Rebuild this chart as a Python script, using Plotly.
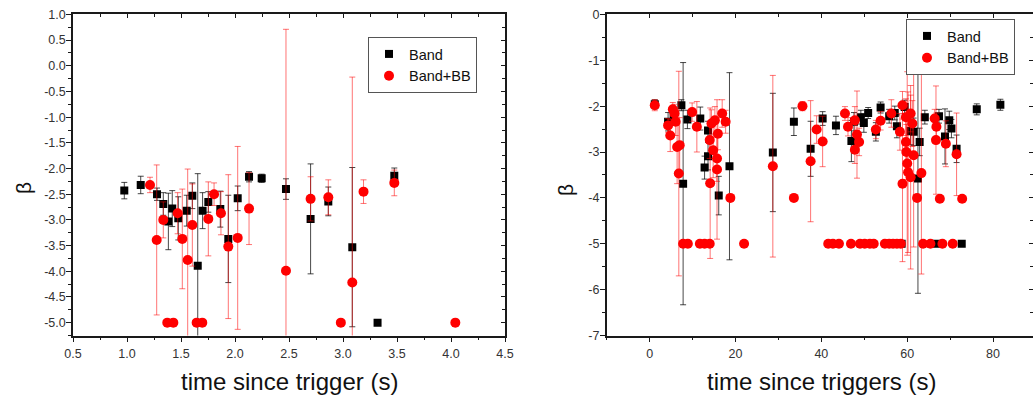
import plotly.graph_objects as go

# ---------------- data: left panel ----------------
L_BAND_X = [0.975, 1.127, 1.278, 1.336, 1.383, 1.419, 1.475, 1.553, 1.605, 1.655, 1.70, 1.753,
            1.864, 1.938, 2.025, 2.13, 2.247, 2.472, 2.70, 2.864, 3.086, 3.32, 3.475]
L_BAND_Y = [-2.43, -2.32, -2.50, -2.69, -3.03, -2.78, -2.97, -2.82, -2.53, -3.89, -2.82, -2.65,
            -2.79, -3.37, -2.58, -2.16, -2.19, -2.40, -2.98, -2.64, -3.53, -5.0, -2.14]
L_BAND_E = [0.16, 0.17, 0.12, 0.22, 0.55, 0.35, 0.42, 0.30, 0.25, 1.79, 0.35, 0.20,
            0.35, 0.85, 0.24, 0.10, 0.08, 0.20, 1.07, 0.28, 1.55, 0.0, 0.15]

L_BB_X = [1.213, 1.275, 1.336, 1.373, 1.429, 1.469, 1.512, 1.562, 1.605, 1.645, 1.697, 1.753,
          1.806, 1.87, 1.938, 2.025, 2.13, 2.472, 2.70, 2.864, 2.98, 3.086, 3.19, 3.475, 4.04]
L_BB_Y = [-2.32, -3.39, -3.00, -5.0, -5.0, -2.87, -3.37, -3.78, -3.10, -5.0, -5.0, -2.98,
          -2.50, -2.87, -3.52, -3.35, -2.78, -3.99, -2.59, -2.56, -5.0, -4.22, -2.45, -2.28, -5.0]
L_BB_E = [0.15, 1.46, 0.35, 0.0, 0.0, 0.40, 0.97, 1.77, 0.80, 0.0, 0.0, 0.72,
          0.22, 0.42, 1.40, 1.78, 0.70, 4.70, 0.43, 0.34, 0.0, 4.00, 0.23, 0.25, 0.0]

# ---------------- data: right panel ----------------
R_BAND_X = [1.2, 4.3, 5.6, 7.4, 7.8, 8.8, 11.8, 12.8, 13.6, 13.6, 16.1, 18.6, 28.7,
            33.6, 37.5, 40.3, 43.4, 47.0, 47.6, 49.2, 49.9, 50.9, 52.7, 53.8, 55.8,
            57.1, 57.6, 59.4, 60.8, 61.5, 62.9, 62.5, 64.1, 67.4, 68.8, 69.8, 70.3,
            71.5, 76.2, 81.7, 58.7, 66.8, 72.7]
R_BAND_Y = [-1.96, -2.34, -2.20, -1.98, -3.69, -2.29, -2.27, -3.34, -2.53, -3.09, -3.95, -3.31, -3.01,
            -2.34, -2.93, -2.27, -2.42, -2.76, -2.34, -2.24, -2.37, -2.15, -2.56, -2.03, -2.22,
            -2.15, -2.44, -2.02, -2.54, -2.56, -2.78, -3.58, -2.24, -2.22, -2.66, -2.31, -2.49,
            -2.93, -2.07, -1.97, -5.0, -5.0, -5.0]
R_BAND_E = [0.10, 0.20, 0.15, 0.12, 2.64, 0.20, 0.25, 0.25, 0.20, 0.30, 0.42, 2.04, 1.29,
            0.30, 0.60, 0.15, 0.20, 0.45, 0.20, 0.15, 0.20, 0.12, 0.20, 0.12, 0.15,
            0.15, 0.25, 0.15, 0.30, 0.30, 0.30, 2.50, 0.15, 0.15, 0.60, 0.20, 0.20,
            0.30, 0.12, 0.12, 0.0, 0.05, 0.0]

R_BB_X = [1.2, 4.3, 4.8, 5.4, 5.8, 6.06, 6.4, 7.0, 6.8, 7.8, 8.9, 9.9, 11.0, 11.7, 12.8, 14.0,
          14.0, 14.4, 14.8, 15.2, 15.7, 15.7, 14.1, 15.9, 16.9, 17.7, 18.8, 22.0, 28.7,
          33.6, 35.6, 37.5, 38.9, 40.3, 41.6, 42.7, 44.1, 45.5, 46.2, 46.9, 47.8, 47.8, 48.3,
          48.8, 49.0, 50.1, 51.3, 52.2, 52.7, 53.8, 54.8, 55.8, 56.7, 57.6, 58.5,
          56.3, 58.3, 58.9, 59.7, 59.7, 59.8, 60.0, 60.2, 58.9, 60.8, 61.2, 61.5, 62.3, 63.3,
          60.8, 63.7, 65.4, 66.4, 66.8, 66.7, 67.6, 68.2, 69.0, 70.6, 71.5, 72.8]
R_BB_Y = [-1.98, -2.42, -2.64, -2.07, -2.16, -2.34, -2.89, -2.85, -3.47, -5.0, -5.0, -2.13, -2.45, -5.0, -5.0, -5.0,
          -2.74, -2.38, -2.96, -2.31, -3.14, -3.38, -3.68, -2.60, -2.16, -2.34, -4.00, -5.0, -3.31,
          -4.00, -2.00, -3.20, -2.51, -2.77, -5.0, -5.0, -5.0, -2.16, -2.45, -5.0, -2.31, -2.95, -2.62,
          -2.78, -5.0, -5.0, -5.0, -5.0, -2.51, -2.32, -5.0, -5.0, -5.0, -5.0, -5.0,
          -2.16, -2.56, -1.98, -2.24, -2.78, -3.00, -3.25, -3.44, -3.69, -3.55, -2.38, -3.07, -4.00, -3.46,
          -2.16, -5.0, -5.0, -2.27, -2.45, -2.74, -4.02, -5.0, -2.82, -5.0, -3.05, -4.02]
R_BB_E = [0.12, 0.15, 0.35, 0.15, 0.20, 0.30, 0.80, 0.60, 2.23, 0.0, 0.0, 0.20, 0.55, 0.0, 0.0, 0.0,
          0.40, 0.30, 0.60, 0.30, 0.50, 1.52, 1.64, 0.35, 0.30, 0.25, 0.0, 0.0, 1.98,
          0.0, 0.10, 1.32, 0.30, 0.55, 0.0, 0.0, 0.0, 0.15, 0.20, 0.0, 0.30, 0.30, 0.95,
          0.30, 0.0, 0.0, 0.0, 0.0, 0.20, 0.20, 0.0, 0.0, 0.0, 0.0, 0.0,
          0.30, 0.40, 0.30, 0.40, 0.50, 0.60, 2.00, 1.75, 1.70, 2.00, 0.50, 2.00, 0.0, 2.20,
          0.40, 0.0, 0.0, 0.20, 0.30, 1.18, 0.0, 0.0, 0.50, 0.0, 0.90, 0.0]

# ---------------- tick labels ----------------
L_XTICKS = [0.5, 1.0, 1.5, 2.0, 2.5, 3.0, 3.5, 4.0, 4.5]
L_XLABELS = ["0.5", "1.0", "1.5", "2.0", "2.5", "3.0", "3.5", "4.0", "4.5"]
L_YTICKS = [1.0, 0.5, 0.0, -0.5, -1.0, -1.5, -2.0, -2.5, -3.0, -3.5, -4.0, -4.5, -5.0]
L_YLABELS = ["1.0", "0.5", "0.0", "-0.5", "-1.0", "-1.5", "-2.0", "-2.5", "-3.0", "-3.5", "-4.0", "-4.5", "-5.0"]
R_XTICKS = [0, 20, 40, 60, 80]
R_XLABELS = ["0", "20", "40", "60", "80"]
R_YTICKS = [0, -1, -2, -3, -4, -5, -6, -7]
R_YLABELS = ["0", "-1", "-2", "-3", "-4", "-5", "-6", "-7"]

SERIES_NAMES = ["Band", "Band+BB"]
X_TITLES = ["time since trigger (s)", "time since triggers (s)"]
Y_TITLE = "β"

FONT = "Liberation Sans, Arial, Helvetica, sans-serif"
W, H = 1033, 399

fig = go.Figure()

BLACK_ERR = "rgba(0,0,0,0.72)"
RED_ERR = "rgba(255,0,0,0.55)"


def add_pair(xa, ya, bx, by, be, rx, ry, re, legend):
    fig.add_trace(go.Scatter(
        x=bx, y=by, mode="markers", name=SERIES_NAMES[0], xaxis=xa, yaxis=ya, legend=legend,
        marker=dict(symbol="square", size=8, color="#000000", line=dict(width=0)),
        error_y=dict(type="data", array=be, symmetric=True, color=BLACK_ERR, thickness=1, width=3),
    ))
    fig.add_trace(go.Scatter(
        x=rx, y=ry, mode="markers", name=SERIES_NAMES[1], xaxis=xa, yaxis=ya, legend=legend,
        marker=dict(symbol="circle", size=10, color="#ff0000", line=dict(width=0)),
        error_y=dict(type="data", array=re, symmetric=True, color=RED_ERR, thickness=1, width=3),
    ))


add_pair("x", "y", L_BAND_X, L_BAND_Y, L_BAND_E, L_BB_X, L_BB_Y, L_BB_E, "legend")
add_pair("x2", "y2", R_BAND_X, R_BAND_Y, R_BAND_E, R_BB_X, R_BB_Y, R_BB_E, "legend2")

# dummy traces for mirror (inward tick) axes
for xa, ya in (("x3", "y3"), ("x4", "y4")):
    fig.add_trace(go.Scatter(x=[None], y=[None], xaxis=xa, yaxis=ya, showlegend=False,
                             hoverinfo="skip", mode="markers"))

XD_L = [73 / W, 505 / W]
XD_R = [606.7 / W, 1.0]
YD = [(H - 335.5) / H, (H - 14.4) / H]
L_XR = [0.5, 4.5]
L_YR = [-5.25, 1.0]
R_XR = [-10, 89.3]
R_YR = [-7, 0]

tickfont = dict(family=FONT, size=12.5, color="#333333")
line_col = "#1a1a1a"


def main_axis(domain, rng, tv, tt, anchor, minor_dt, standoff):
    return dict(domain=domain, range=rng, anchor=anchor, tickmode="array", tickvals=tv, ticktext=tt,
                ticks="outside", ticklen=5, tickwidth=1, tickcolor=line_col,
                showline=True, linewidth=1.5, linecolor=line_col, showgrid=False, zeroline=False,
                tickfont=tickfont, automargin=False, fixedrange=True, ticklabelstandoff=standoff,
                minor=dict(dtick=minor_dt, tick0=0, ticks="outside", ticklen=3, tickcolor=line_col, showgrid=False))


def mirror_axis(domain, rng, tv, overlay, anchor, side, minor_dt):
    return dict(domain=domain, range=rng, overlaying=overlay, anchor=anchor, side=side,
                tickmode="array", tickvals=tv, showticklabels=False,
                ticks="inside", ticklen=4, tickwidth=1, tickcolor=line_col,
                showline=True, linewidth=1.5, linecolor=line_col, showgrid=False, zeroline=False,
                automargin=False, fixedrange=True,
                minor=dict(dtick=minor_dt, tick0=0, ticks="inside", ticklen=3, tickcolor=line_col, showgrid=False))


fig.update_layout(
    width=W, height=H, autosize=False,
    margin=dict(l=0, r=0, t=0, b=0, pad=0),
    paper_bgcolor="white", plot_bgcolor="white",
    font=dict(family=FONT, color="#111111"),
    xaxis=main_axis(XD_L, L_XR, L_XTICKS, L_XLABELS, "y", 0.25, 1),
    yaxis=main_axis(YD, L_YR, L_YTICKS, L_YLABELS, "x", 0.25, -2),
    xaxis2=main_axis(XD_R, R_XR, R_XTICKS, R_XLABELS, "y2", 10, 1),
    yaxis2=main_axis(YD, R_YR, R_YTICKS, R_YLABELS, "x2", 0.5, -2),
    xaxis3=mirror_axis(XD_L, L_XR, L_XTICKS, "x", "y3", "top", 0.25),
    yaxis3=mirror_axis(YD, L_YR, L_YTICKS, "y", "x3", "right", 0.25),
    xaxis4=mirror_axis(XD_R, R_XR, R_XTICKS, "x2", "y4", "top", 10),
    yaxis4=mirror_axis(YD, R_YR, R_YTICKS, "y2", "x4", "right", 0.5),
    legend=dict(x=368 / W, y=(H - 37) / H, xanchor="left", yanchor="top",
                bgcolor="white", bordercolor="#555555", borderwidth=1,
                font=dict(family=FONT, size=14.5, color="#111111"), tracegroupgap=0),
    legend2=dict(x=906 / W, y=(H - 19) / H, xanchor="left", yanchor="top",
                 bgcolor="white", bordercolor="#555555", borderwidth=1,
                 font=dict(family=FONT, size=14.5, color="#111111"), tracegroupgap=0),
    showlegend=True,
)

# axis titles as annotations
ann = []
for txt, cx in ((X_TITLES[0], 289), (X_TITLES[1], 821)):
    ann.append(dict(text=txt, x=cx / W, y=(H - 381) / H, xref="paper", yref="paper",
                    xanchor="center", yanchor="middle", showarrow=False,
                    font=dict(family=FONT, size=24, color="#111111")))
for cx, cy in ((23, 188), (565, 190)):
    ann.append(dict(text=Y_TITLE, x=cx / W, y=(H - cy) / H, xref="paper", yref="paper",
                    xanchor="center", yanchor="middle", showarrow=False, textangle=-90,
                    font=dict(family=FONT, size=21, color="#111111")))
fig.update_layout(annotations=ann)

fig.write_html("out.html")
